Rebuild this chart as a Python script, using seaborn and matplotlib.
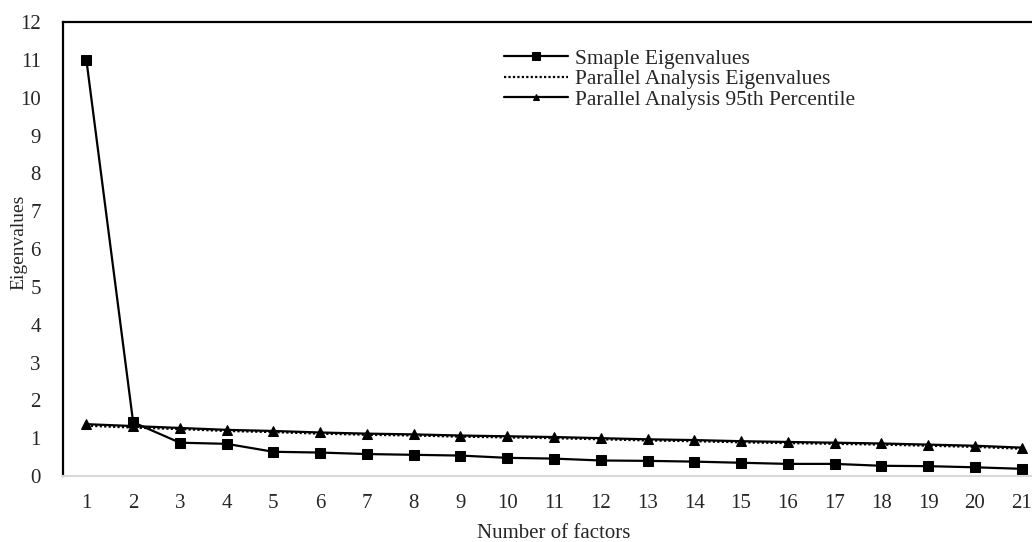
import matplotlib
matplotlib.use("Agg")
import matplotlib.pyplot as plt
import seaborn as sns
import pandas as pd

factors = list(range(1, 22))
sample_eigen = [11.0, 1.42, 0.88, 0.85, 0.64, 0.62, 0.58, 0.56, 0.54, 0.48, 0.46,
                0.41, 0.40, 0.38, 0.35, 0.32, 0.32, 0.27, 0.26, 0.23, 0.19]
parallel_eigen = [1.33, 1.28, 1.24, 1.19, 1.16, 1.12, 1.09, 1.07, 1.04, 1.02, 1.00,
                  0.97, 0.94, 0.92, 0.89, 0.87, 0.85, 0.83, 0.80, 0.77, 0.72]
parallel_95 = [1.37, 1.32, 1.27, 1.22, 1.19, 1.15, 1.12, 1.10, 1.07, 1.05, 1.03,
               1.00, 0.97, 0.95, 0.92, 0.90, 0.88, 0.86, 0.83, 0.80, 0.75]
labels = ["Smaple Eigenvalues", "Parallel Analysis Eigenvalues", "Parallel Analysis 95th Percentile"]

sns.set_style("white")
plt.rcParams['font.family'] = ['Liberation Serif', 'DejaVu Serif']

df = pd.DataFrame({"factor": factors, "s": sample_eigen, "p": parallel_eigen, "q": parallel_95})

fig = plt.figure(figsize=(10.32, 5.42), dpi=100)
ax = fig.add_axes([63/1032, 1 - 476/542, (1045 - 63)/1032, (476 - 22)/542])

sns.lineplot(data=df, x="factor", y="s", ax=ax, color="black", lw=1.6, marker="s",
             markersize=7.5, markeredgecolor="black", label=labels[0])
sns.lineplot(data=df, x="factor", y="p", ax=ax, color="black", lw=1.6, linestyle=(0, (1, 1)),
             label=labels[1])
sns.lineplot(data=df, x="factor", y="q", ax=ax, color="black", lw=1.6, marker="^",
             markersize=7, markeredgecolor="black", label=labels[2])

ax.set_xlim(0.5, 21.5)
ax.set_ylim(0, 12)
ax.set_xticks(factors)
ax.set_yticks(range(0, 13))
ax.tick_params(axis="y", direction="in", length=5, width=1.2, labelsize=15, pad=16, color="black")
ax.tick_params(axis="x", length=0, labelsize=15, pad=13)
for s in ["left", "top"]:
    ax.spines[s].set_color("black")
    ax.spines[s].set_linewidth(1.6)
ax.spines["right"].set_visible(False)
ax.spines["bottom"].set_color("#d9d9d9")
ax.spines["bottom"].set_linewidth(1.5)

ax.set_xlabel("Number of factors", fontsize=15, labelpad=8)
ax.set_ylabel("Eigenvalues", fontsize=14)
ax.yaxis.set_label_coords(-0.0367, 0.515)

leg = ax.legend(loc="upper left", bbox_to_anchor=(432/982, 1 - 18/454), frameon=False,
                fontsize=15.5, handlelength=3.0, handletextpad=0.3, labelspacing=0.02,
                borderaxespad=0, markerscale=0.7)

fig.savefig("out.png", dpi=100)
